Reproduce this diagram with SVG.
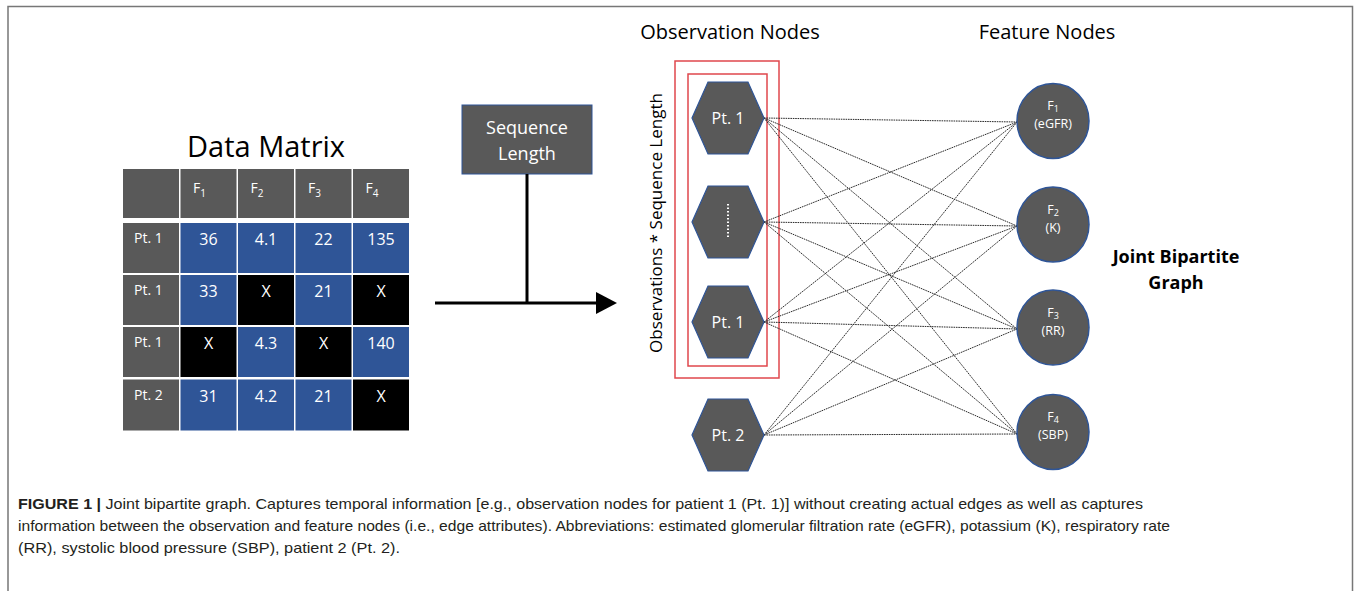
<svg xmlns="http://www.w3.org/2000/svg" width="1354" height="591" viewBox="0 0 1354 591">
<defs>
<style>
.cell-g{fill:#595959}
.cell-b{fill:#2F5597}
.cell-k{fill:#000000}
.ct{font-family:"Open Sans","Liberation Sans",sans-serif;fill:#ffffff;font-size:16px;text-anchor:middle}
.pt{font-family:"Open Sans","Liberation Sans",sans-serif;fill:#ffffff;font-size:14px}
.hdr{font-family:"Open Sans","Liberation Sans",sans-serif;fill:#ffffff;font-size:14px}
.hex{fill:#595959;stroke:#2F5597;stroke-width:1.2}
.fe{fill:#595959;stroke:#2F5597;stroke-width:1.5}
.hl{font-family:"Open Sans","Liberation Sans",sans-serif;fill:#ffffff;font-size:16px;text-anchor:middle}
.fl{font-family:"Open Sans","Liberation Sans",sans-serif;fill:#ffffff;font-size:12.5px;text-anchor:middle}
.title{font-family:"Open Sans","Liberation Sans",sans-serif;fill:#000000;font-size:20px;text-anchor:middle}
.edge{stroke:#2a2a2a;stroke-width:1;stroke-dasharray:1.6 0.8;fill:none}
.red{fill:none;stroke:#E0474C;stroke-width:1.5}
.cap{font-family:"Liberation Sans",Arial,sans-serif;fill:#231F20;font-size:15px}
</style>
</defs>
<rect x="0" y="0" width="1354" height="591" fill="#ffffff"/>
<path d="M8 591 V6.5 H1352.5 V591" fill="none" stroke="#777777" stroke-width="1.5"/>

<g id="data-matrix">
<text x="266" y="157" font-family="Open Sans, Liberation Sans, sans-serif" font-size="29" text-anchor="middle" fill="#000">Data Matrix</text>
<!-- header -->
<rect class="cell-g" x="123" y="169" width="56" height="49"/>
<rect class="cell-g" x="180.5" y="169" width="56" height="49"/>
<rect class="cell-g" x="238" y="169" width="56" height="49"/>
<rect class="cell-g" x="295.5" y="169" width="56" height="49"/>
<rect class="cell-g" x="353" y="169" width="56" height="49"/>
<text class="hdr" x="193" y="193">F<tspan font-size="10" dy="4">1</tspan></text>
<text class="hdr" x="250.5" y="193">F<tspan font-size="10" dy="4">2</tspan></text>
<text class="hdr" x="308" y="193">F<tspan font-size="10" dy="4">3</tspan></text>
<text class="hdr" x="365.5" y="193">F<tspan font-size="10" dy="4">4</tspan></text>
<!-- row 1 -->
<rect class="cell-g" x="123" y="223" width="56" height="50"/>
<rect class="cell-b" x="180.5" y="223" width="56" height="50"/>
<rect class="cell-b" x="238" y="223" width="56" height="50"/>
<rect class="cell-b" x="295.5" y="223" width="56" height="50"/>
<rect class="cell-b" x="353" y="223" width="56" height="50"/>
<text class="pt" x="134" y="243">Pt. 1</text>
<text class="ct" x="208.5" y="245">36</text>
<text class="ct" x="266" y="245">4.1</text>
<text class="ct" x="323.5" y="245">22</text>
<text class="ct" x="381" y="245">135</text>
<!-- row 2 -->
<rect class="cell-g" x="123" y="275" width="56" height="50"/>
<rect class="cell-b" x="180.5" y="275" width="56" height="50"/>
<rect class="cell-k" x="238" y="275" width="56" height="50"/>
<rect class="cell-b" x="295.5" y="275" width="56" height="50"/>
<rect class="cell-k" x="353" y="275" width="56" height="50"/>
<text class="pt" x="134" y="295">Pt. 1</text>
<text class="ct" x="208.5" y="297">33</text>
<text class="ct" x="266" y="297">X</text>
<text class="ct" x="323.5" y="297">21</text>
<text class="ct" x="381" y="297">X</text>
<!-- row 3 -->
<rect class="cell-g" x="123" y="327" width="56" height="50"/>
<rect class="cell-k" x="180.5" y="327" width="56" height="50"/>
<rect class="cell-b" x="238" y="327" width="56" height="50"/>
<rect class="cell-k" x="295.5" y="327" width="56" height="50"/>
<rect class="cell-b" x="353" y="327" width="56" height="50"/>
<text class="pt" x="134" y="347">Pt. 1</text>
<text class="ct" x="208.5" y="349">X</text>
<text class="ct" x="266" y="349">4.3</text>
<text class="ct" x="323.5" y="349">X</text>
<text class="ct" x="381" y="349">140</text>
<!-- row 4 -->
<rect class="cell-g" x="123" y="379.5" width="56" height="51"/>
<rect class="cell-b" x="180.5" y="379.5" width="56" height="51"/>
<rect class="cell-b" x="238" y="379.5" width="56" height="51"/>
<rect class="cell-b" x="295.5" y="379.5" width="56" height="51"/>
<rect class="cell-k" x="353" y="379.5" width="56" height="51"/>
<text class="pt" x="134" y="400">Pt. 2</text>
<text class="ct" x="208.5" y="402">31</text>
<text class="ct" x="266" y="402">4.2</text>
<text class="ct" x="323.5" y="402">21</text>
<text class="ct" x="381" y="402">X</text>
</g>

<g id="sequence-length">
<rect x="462" y="105" width="130" height="69" fill="#595959" stroke="#2F5597" stroke-width="1"/>
<text x="527" y="134" font-family="Open Sans, Liberation Sans, sans-serif" font-size="18" fill="#fff" text-anchor="middle">Sequence</text>
<text x="527" y="160" font-family="Open Sans, Liberation Sans, sans-serif" font-size="18" fill="#fff" text-anchor="middle">Length</text>
</g>

<g id="arrow">
<line x1="527" y1="174" x2="527" y2="304" stroke="#000" stroke-width="3"/>
<line x1="435" y1="303" x2="598" y2="303" stroke="#000" stroke-width="3"/>
<polygon points="596,292 617,303 596,314" fill="#000"/>
</g>

<text class="title" x="730" y="39">Observation Nodes</text>
<text class="title" x="1047" y="39">Feature Nodes</text>

<g id="obs-group">
<rect class="red" x="675" y="61" width="104" height="317"/>
<rect class="red" x="688" y="74" width="79" height="292"/>
<text transform="translate(662 223) rotate(-90)" font-family="Open Sans, Liberation Sans, sans-serif" font-size="17" fill="#000" text-anchor="middle">Observations * Sequence Length</text>
</g>

<g id="edges">
<line class="edge" x1="764" y1="118" x2="1017" y2="122"/>
<line class="edge" x1="764" y1="118" x2="1017" y2="226"/>
<line class="edge" x1="764" y1="118" x2="1017" y2="329"/>
<line class="edge" x1="764" y1="118" x2="1017" y2="434"/>
<line class="edge" x1="764" y1="222" x2="1017" y2="122"/>
<line class="edge" x1="764" y1="222" x2="1017" y2="226"/>
<line class="edge" x1="764" y1="222" x2="1017" y2="329"/>
<line class="edge" x1="764" y1="222" x2="1017" y2="434"/>
<line class="edge" x1="764" y1="322" x2="1017" y2="122"/>
<line class="edge" x1="764" y1="322" x2="1017" y2="226"/>
<line class="edge" x1="764" y1="322" x2="1017" y2="329"/>
<line class="edge" x1="764" y1="322" x2="1017" y2="434"/>
<line class="edge" x1="764" y1="435" x2="1017" y2="122"/>
<line class="edge" x1="764" y1="435" x2="1017" y2="226"/>
<line class="edge" x1="764" y1="435" x2="1017" y2="329"/>
<line class="edge" x1="764" y1="435" x2="1017" y2="434"/>
</g>

<g id="obs-1">
<polygon class="hex" points="692,118 708,82 748,82 764,118 748,154 708,154"/>
<text class="hl" x="728" y="124">Pt. 1</text>
</g>
<g id="obs-dots">
<polygon class="hex" points="692,222 708,186 748,186 764,222 748,258 708,258"/>
<line x1="728" y1="204" x2="728" y2="238" stroke="#fff" stroke-width="2" stroke-dasharray="1.5 2"/>
</g>
<g id="obs-2">
<polygon class="hex" points="692,322 708,286 748,286 764,322 748,358 708,358"/>
<text class="hl" x="728" y="328">Pt. 1</text>
</g>
<g id="obs-3">
<polygon class="hex" points="692,435 708,399 748,399 764,435 748,471 708,471"/>
<text class="hl" x="728" y="441">Pt. 2</text>
</g>

<g id="feat-1">
<ellipse class="fe" cx="1053" cy="121" rx="36" ry="37.5"/>
<text class="fl" x="1053" y="110">F<tspan font-size="9" dy="2">1</tspan></text>
<text class="fl" x="1053" y="128">(eGFR)</text>
</g>
<g id="feat-2">
<ellipse class="fe" cx="1053" cy="224.5" rx="36" ry="37.5"/>
<text class="fl" x="1053" y="213.5">F<tspan font-size="9" dy="2">2</tspan></text>
<text class="fl" x="1053" y="231.5">(K)</text>
</g>
<g id="feat-3">
<ellipse class="fe" cx="1053" cy="327.5" rx="36" ry="37.5"/>
<text class="fl" x="1053" y="316.5">F<tspan font-size="9" dy="2">3</tspan></text>
<text class="fl" x="1053" y="334.5">(RR)</text>
</g>
<g id="feat-4">
<ellipse class="fe" cx="1053" cy="432" rx="36" ry="37.5"/>
<text class="fl" x="1053" y="421">F<tspan font-size="9" dy="2">4</tspan></text>
<text class="fl" x="1053" y="439">(SBP)</text>
</g>

<g id="joint-label">
<text x="1176" y="263" font-family="Open Sans, Liberation Sans, sans-serif" font-size="18" font-weight="bold" fill="#000" text-anchor="middle">Joint Bipartite</text>
<text x="1176" y="289" font-family="Open Sans, Liberation Sans, sans-serif" font-size="18" font-weight="bold" fill="#000" text-anchor="middle">Graph</text>
</g>

<g id="caption">
<text class="cap" x="18" y="509" textLength="1125" lengthAdjust="spacingAndGlyphs"><tspan font-weight="bold">FIGURE 1 |</tspan> Joint bipartite graph. Captures temporal information [e.g., observation nodes for patient 1 (Pt. 1)] without creating actual edges as well as captures</text>
<text class="cap" x="18" y="531" textLength="1152" lengthAdjust="spacingAndGlyphs">information between the observation and feature nodes (i.e., edge attributes). Abbreviations: estimated glomerular filtration rate (eGFR), potassium (K), respiratory rate</text>
<text class="cap" x="18" y="553" textLength="382" lengthAdjust="spacingAndGlyphs">(RR), systolic blood pressure (SBP), patient 2 (Pt. 2).</text>
</g>
</svg>
